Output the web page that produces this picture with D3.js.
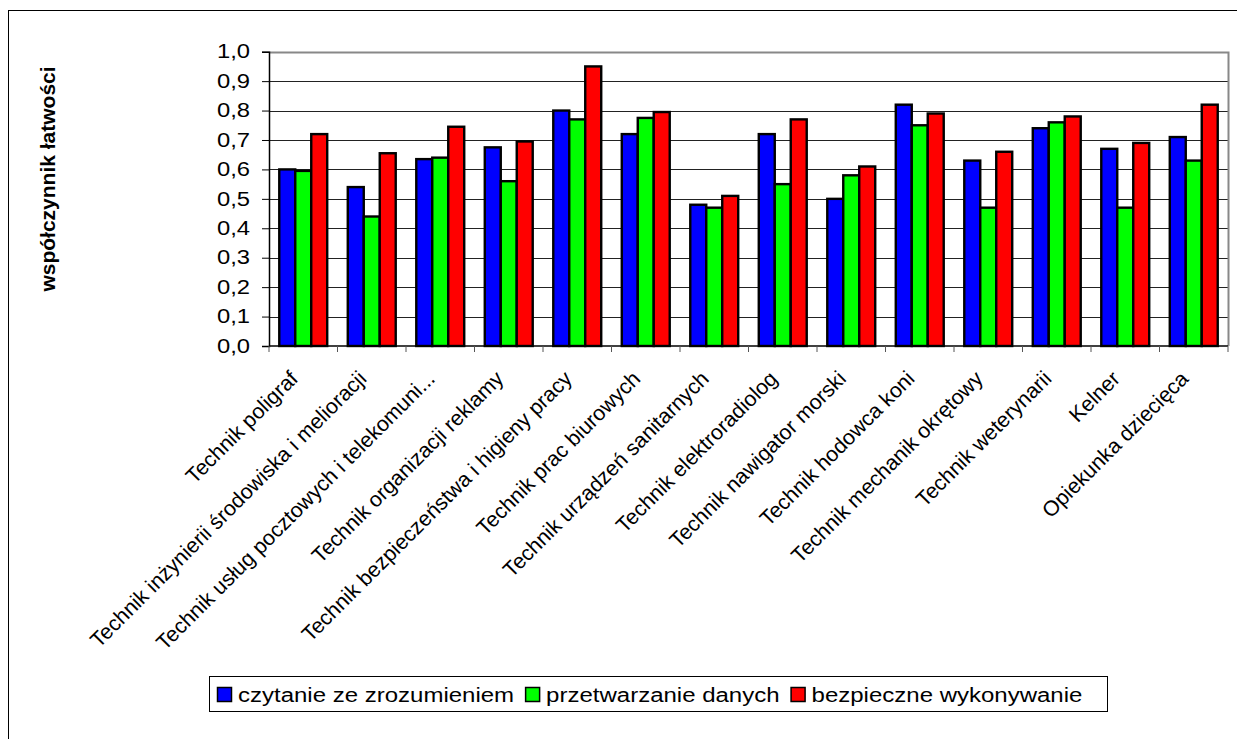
<!DOCTYPE html>
<html><head><meta charset="utf-8">
<script src="https://cdn.jsdelivr.net/npm/d3@7"></script>
<style>body{margin:0;background:#fff;}svg{display:block;font-family:"Liberation Sans",Arial,sans-serif;}</style>
</head><body>
<svg id="c" width="1237" height="739"></svg>
<script>
const categories = [
  "Technik poligraf",
  "Technik inżynierii środowiska i melioracji",
  "Technik usług pocztowych i telekomuni...",
  "Technik organizacji reklamy",
  "Technik bezpieczeństwa i higieny pracy",
  "Technik prac biurowych",
  "Technik urządzeń sanitarnych",
  "Technik elektroradiolog",
  "Technik nawigator morski",
  "Technik hodowca koni",
  "Technik mechanik okrętowy",
  "Technik weterynarii",
  "Kelner",
  "Opiekunka dziecięca"
];
const seriesNames = ["czytanie ze zrozumieniem", "przetwarzanie danych", "bezpieczne wykonywanie"];
const czytanie = [0.60, 0.54, 0.635, 0.675, 0.80, 0.72, 0.48, 0.72, 0.50, 0.82, 0.63, 0.74, 0.67, 0.71];
const przetwarzanie = [0.595, 0.44, 0.64, 0.56, 0.77, 0.775, 0.47, 0.55, 0.58, 0.75, 0.47, 0.76, 0.47, 0.63];
const bezpieczne = [0.72, 0.655, 0.745, 0.695, 0.95, 0.795, 0.51, 0.77, 0.61, 0.79, 0.66, 0.78, 0.69, 0.82];
const yTicks = [0, 0.1, 0.2, 0.3, 0.4, 0.5, 0.6, 0.7, 0.8, 0.9, 1.0];
const colors = ["#0000FF", "#00FF00", "#FF0000"];
const yTitle = "współczynnik łatwości";

const series = [czytanie, przetwarzanie, bezpieczne];
const svg = d3.select("#c");
const L = 269, R = 1228, T = 51.7, B = 346;
const stretch = 1.2;

// outer border
svg.append("rect").attr("x", 8.5).attr("y", 10.5).attr("width", 1300).attr("height", 800)
  .attr("fill", "none").attr("stroke", "#000").attr("stroke-width", 1);

const x0 = d3.scaleBand().domain(categories).range([L, R]).paddingInner(0.3).paddingOuter(0.15);
const x1 = d3.scaleBand().domain(d3.range(3)).range([0, x0.bandwidth()]);
const y = d3.scaleLinear().domain([0, 1]).range([B, T]);

// gridlines
svg.append("g").selectAll("line").data(yTicks.filter(d => d > 0 && d < 1)).join("line")
  .attr("x1", L).attr("x2", R).attr("y1", d => Math.round(y(d)) + 0.5).attr("y2", d => Math.round(y(d)) + 0.5)
  .attr("stroke", "#222").attr("stroke-width", 1.2);
// plot border top/right gray
svg.append("path").attr("d", `M${L},${Math.round(T)+0.5}H${R+0.5}V${B}`)
  .attr("fill", "none").attr("stroke", "#888").attr("stroke-width", 2);

// bars
const groups = svg.append("g").selectAll("g").data(categories).join("g")
  .attr("transform", d => `translate(${x0(d)},0)`);
groups.selectAll("rect").data((d, i) => series.map((s, k) => ({k, v: s[i]}))).join("rect")
  .attr("x", d => x1(d.k)).attr("width", x1.bandwidth())
  .attr("y", d => y(d.v)).attr("height", d => y(0) - y(d.v))
  .attr("fill", d => colors[d.k]).attr("stroke", "#000").attr("stroke-width", 2.4);

// y axis
const yAxis = svg.append("g").attr("transform", `translate(${L},0)`)
  .call(d3.axisLeft(y).tickValues(yTicks).tickSize(7).tickPadding(12)
    .tickFormat(d => d3.format(".1f")(d).replace(".", ",")));
yAxis.select(".domain").attr("stroke", "#000").attr("stroke-width", 1.5);
yAxis.selectAll(".tick line").attr("stroke", "#000");
yAxis.selectAll("text").attr("font-size", 19.5).attr("fill", "#000")
  .attr("font-family", "Liberation Sans, Arial, sans-serif")
  .each(function(){ const w = this.getComputedTextLength(); d3.select(this).attr("textLength", w*1.22).attr("lengthAdjust","spacingAndGlyphs"); });

// x axis baseline and ticks between categories
svg.append("line").attr("x1", L).attr("x2", R).attr("y1", B).attr("y2", B).attr("stroke", "#000").attr("stroke-width", 1.5);
const step = x0.step();
svg.append("g").selectAll("line").data(d3.range(categories.length + 1)).join("line")
  .attr("x1", i => L + i * step).attr("x2", i => L + i * step)
  .attr("y1", B).attr("y2", B + 6).attr("stroke", "#555").attr("stroke-width", 1);

// x labels
svg.append("g").selectAll("text").data(categories).join("text")
  .attr("transform", d => `translate(${x0(d) + x0.bandwidth()/2 - 4},${B + 34}) rotate(-45)`)
  .attr("text-anchor", "end").attr("font-size", 21.3).attr("fill", "#000")
  .text(d => d);

// y title
svg.append("text").attr("transform", `translate(55,179) rotate(-90)`)
  .attr("text-anchor", "middle").attr("font-size", 21).attr("font-weight", "bold")
  .attr("fill", "#000").text(yTitle);

// legend
const lg = svg.append("g");
lg.append("rect").attr("x", 209.5).attr("y", 676.5).attr("width", 898).attr("height", 35)
  .attr("fill", "#fff").attr("stroke", "#000").attr("stroke-width", 1);
let lx = 217;
seriesNames.forEach((name, k) => {
  lg.append("rect").attr("x", lx + 0.5).attr("y", 687.5).attr("width", 14).attr("height", 14)
    .attr("fill", colors[k]).attr("stroke", "#000").attr("stroke-width", 1.5);
  const t = lg.append("text").attr("x", lx + 21).attr("y", 702).attr("font-size", 20).attr("fill", "#000").text(name);
  const w = t.node().getComputedTextLength() * stretch;
  t.attr("textLength", w).attr("lengthAdjust", "spacingAndGlyphs");
  lx += 21 + w + 11;
});
</script>
</body></html>
